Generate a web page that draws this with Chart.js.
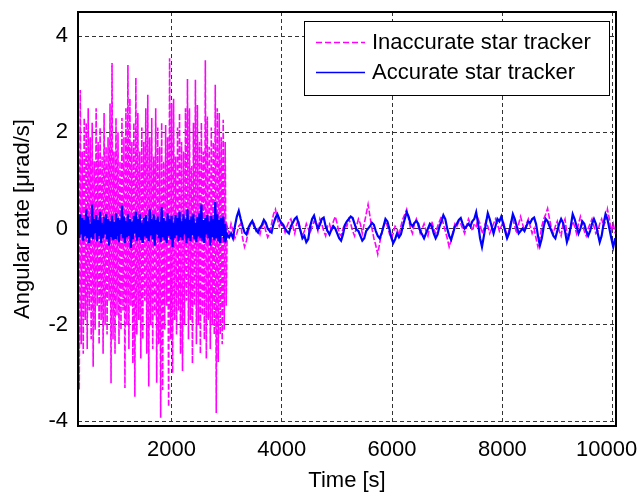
<!DOCTYPE html>
<html>
<head>
<meta charset="utf-8">
<title>Angular rate</title>
<script src="https://cdn.jsdelivr.net/npm/chart.js@4.4.0/dist/chart.umd.min.js"></script>
<style>
  html, body { margin: 0; padding: 0; background: #fff; }
  canvas { display: block; }
</style>
</head>
<body>
<canvas id="rate" width="640" height="494"></canvas>
<script>
//---sampling: fine steps while the bad tracker is in the loop, coarser steps afterwards---
const fastStart = 310, fastStep = 18;
const slowStart = 3010, slowStep = 35;

//---angular rate [urad/s], first phase (t < 3000 s)---
const inaccurateFast = [
  2.1, -3.35, 2.88, -2.4, 1.6, -2.6, 2.3, -1.9, 2.2, -2.5,
  2.5, -1.7, 1.9, -2.3, 2.2, -2.87, 1.4, -2.1, 2.5, -1.6,
  1.8, -2.4, 2.1, -1.9, 1.5, -2.6, 2.4, -2.0, 1.7, -2.2,
  1.9, -1.5, 2.6, -3.21, 3.44, -2.3, 1.6, -2.6, 2.3, -1.8,
  2.0, -2.4, 1.4, -2.1, 2.3, -1.7, 1.9, -3.31, 2.5, -2.0,
  3.4, -2.5, 2.7, -1.6, 1.8, -2.8, 2.2, -3.49, 3.13, -2.2,
  2.4, -1.9, 1.6, -2.7, 2.1, -2.3, 1.8, -1.5, 2.5, -2.6,
  2.78, -3.28, 1.9, -2.0, 2.3, -2.5, 1.5, -1.8, 2.5, -3.2,
  2.1, -2.4, 1.7, -3.93, 2.2, -3.35, 1.4, -2.1, 2.15, -1.6,
  1.9, -3.7, 3.54, -2.3, 2.6, -3.0, 2.7, -1.9, 1.5, -2.2,
  2.1, -1.7, 2.4, -2.6, 1.8, -2.96, 1.6, -2.0, 2.5, -1.5,
  3.11, -2.3, 2.5, -1.9, 1.3, -2.8, 2.2, -1.6, 3.09, -2.4,
  2.57, -2.0, 1.8, -2.6, 2.2, -1.8, 1.6, -2.3, 3.5, -2.7,
  2.33, -1.9, 1.7, -2.5, 2.1, -2.0, 1.8, -2.2, 2.99, -3.83,
  2.5, -2.77, 2.4, -2.2, 1.9, -2.4, 2.26, -2.1, 1.8, -1.6
];
const accurateFast = [
  0.15, -0.2, 0.3, -0.12, 0.22, -0.25, 0.18, -0.15, 0.4, -0.2,
  0.25, -0.3, 0.1, -0.18, 0.5, -0.22, 0.2, -0.1, 0.28, -0.26,
  0.18, -0.15, 0.35, -0.3, 0.12, -0.2, 0.24, -0.12, 0.3, -0.22,
  0.2, -0.35, 0.15, -0.18, 0.27, -0.24, 0.14, -0.2, 0.32, -0.15,
  0.22, -0.28, 0.18, -0.12, 0.48, -0.2, 0.25, -0.3, 0.16, -0.18,
  0.3, -0.15, 0.2, -0.4, 0.14, -0.22, 0.26, -0.1, 0.35, -0.25,
  0.2, -0.18, 0.3, -0.24, 0.12, -0.3, 0.22, -0.16, 0.28, -0.2,
  0.15, -0.26, 0.4, -0.14, 0.2, -0.22, 0.3, -0.35, 0.18, -0.12,
  0.25, -0.2, 0.14, -0.28, 0.45, -0.18, 0.22, -0.24, 0.16, -0.3,
  0.32, -0.15, 0.2, -0.22, 0.26, -0.38, 0.12, -0.2, 0.28, -0.14,
  0.22, -0.26, 0.35, -0.18, 0.15, -0.24, 0.3, -0.12, 0.2, -0.3,
  0.4, -0.2, 0.18, -0.26, 0.25, -0.14, 0.3, -0.22, 0.12, -0.28,
  0.24, -0.16, 0.32, -0.2, 0.5, -0.25, 0.18, -0.3, 0.22, -0.12,
  0.28, -0.2, 0.15, -0.35, 0.26, -0.18, 0.2, -0.24, 0.55, -0.2,
  0.3, -0.26, 0.18, -0.3, 0.22, -0.15, 0.25, -0.28, 0.1, -0.2
];

//---second phase (t > 3000 s), both trackers good---
const inaccurateSlow = [
  0.05, -0.1, 0.1, -0.05, -0.2, -0.1, 0.05, 0.1, -0.2, -0.38,
  -0.25, -0.05, 0.08, 0.15, 0.1, -0.05, 0.0, -0.12, 0.05, 0.1,
  -0.05, -0.18, -0.1, 0.1, 0.3, 0.4, 0.2, 0.05, 0.15, 0.05,
  -0.08, 0.05, 0.15, 0.2, 0.05, -0.1, 0.1, 0.18, -0.05, -0.15,
  -0.05, 0.1, 0.0, -0.1, 0.05, 0.15, 0.1, -0.05, 0.2, 0.1,
  -0.05, -0.15, 0.05, 0.1, -0.05, 0.15, 0.25, 0.1, -0.1, -0.15,
  0.0, 0.1, 0.05, 0.2, 0.1, -0.05, -0.15, 0.05, 0.2, 0.1,
  -0.1, 0.1, 0.3, 0.5, 0.25, 0.0, -0.2, -0.35, -0.53, -0.3,
  -0.1, 0.05, 0.15, 0.05, -0.1, -0.2, -0.1, 0.05, 0.0, -0.15,
  0.05, 0.2, 0.3, 0.4, 0.2, 0.0, -0.1, 0.1, 0.2, 0.05,
  -0.1, 0.0, 0.1, -0.05, -0.15, 0.05, 0.15, 0.0, -0.1, 0.05,
  0.15, 0.25, 0.1, -0.05, -0.2, -0.38, -0.25, -0.05, 0.1, 0.05,
  0.15, 0.1, 0.0, -0.1, 0.05, 0.2, 0.1, -0.05, 0.1, 0.05,
  0.2, 0.1, -0.1, 0.0, 0.15, 0.05, -0.1, 0.0, 0.1, 0.2,
  0.1, -0.05, 0.05, 0.15, 0.0, -0.15, -0.05, 0.15, 0.2, 0.05,
  -0.1, 0.1, 0.25, 0.1, -0.05, 0.1, 0.2, 0.05, -0.1, 0.0,
  -0.2, -0.38, -0.2, 0.05, 0.2, 0.3, 0.42, 0.2, 0.0, -0.1,
  0.05, 0.15, -0.05, -0.15, 0.1, 0.2, -0.1, -0.2, 0.0, 0.15,
  0.05, -0.1, 0.1, 0.25, 0.1, -0.05, -0.15, 0.0, 0.1, 0.2,
  0.05, -0.1, -0.05, 0.1, 0.2, 0.05, 0.15, 0.4, 0.2, -0.05,
  0.1, -0.1
];
const accurateSlow = [
  -0.12, -0.18, -0.1, -0.2, 0.05, 0.25, 0.37, 0.2, 0.05, -0.08,
  -0.12, 0.02, 0.1, 0.16, 0.05, -0.03, -0.08, 0.02, 0.08, 0.18,
  0.12, 0.0, -0.05, -0.08, 0.1, 0.22, 0.3, 0.2, 0.12, 0.08,
  0.0, -0.06, -0.1, 0.05, 0.12, 0.2, 0.24, 0.1, -0.05, -0.2,
  -0.15, -0.28, -0.22, 0.05, 0.2, 0.27, 0.12, 0.0, 0.08, 0.2,
  0.23, 0.05, -0.05, -0.12, -0.02, 0.05, 0.0, -0.1, -0.2, -0.25,
  -0.12, 0.08, 0.15, 0.2, 0.25, 0.22, 0.1, -0.02, -0.05, -0.15,
  -0.25, -0.2, -0.05, 0.0, 0.05, 0.12, 0.08, -0.05, -0.15, -0.2,
  -0.1, 0.05, 0.2, 0.15, 0.0, -0.18, -0.3, -0.22, -0.1, -0.18,
  -0.12, 0.05, 0.2, 0.34, 0.25, 0.1, 0.05, 0.12, 0.16, 0.1,
  -0.05, -0.12, -0.2, -0.1, 0.0, 0.1, 0.05, -0.1, -0.2, -0.12,
  0.05, 0.15, 0.28, 0.2, 0.0, -0.15, -0.23, -0.1, 0.05, 0.1,
  0.18, 0.22, 0.1, 0.0, 0.05, 0.1, 0.05, 0.15, 0.2, 0.34,
  0.1, -0.2, -0.38, -0.15, 0.1, 0.32, 0.2, 0.05, -0.1, 0.05,
  0.2, 0.15, 0.25, 0.1, -0.05, -0.2, -0.1, 0.1, 0.3, 0.2,
  0.05, -0.1, -0.05, 0.0, -0.05, 0.05, 0.15, 0.12, 0.2, 0.23,
  0.1, -0.15, -0.35, -0.2, 0.05, 0.2, 0.15, 0.05, -0.05, -0.15,
  -0.2, -0.05, 0.1, 0.2, 0.12, -0.05, -0.28, -0.15, 0.05, 0.3,
  0.2, 0.05, -0.1, 0.0, 0.15, 0.1, -0.05, -0.15, -0.05, 0.1,
  0.2, 0.1, -0.1, -0.28, -0.15, 0.1, 0.3, 0.2, 0.0, -0.2,
  -0.38, -0.2
];

const xTicks = [2000, 4000, 6000, 8000, 10000];
const yTicks = [-4, -2, 0, 2, 4];
const seriesNames = ['Inaccurate star tracker', 'Accurate star tracker'];
const seriesColors = ['#ff00ff', '#0000ff'];

const fontFamily = '"Liberation Sans", Arial, Helvetica, sans-serif';

//-------------------Functions-------------------
function toPoints(fast, slow){ //fast and slow are the two sample blocks, returns {x,y} list for a linear x axis
  const pts = [];
  for (var i = 0; i < fast.length; i++){
    pts.push({x: fastStart + i * fastStep, y: fast[i]});
  }
  for (var j = 0; j < slow.length; j++){
    pts.push({x: slowStart + j * slowStep, y: slow[j]});
  }
  return pts;
}

// black box round the plot area, drawn over the lines like matlab axes
const framePlugin = {
  id: 'frame',
  beforeDraw(chart){
    // pull the last x label ("10000") a bit inside so it is not cut by the canvas edge
    const items = chart.scales.x.getLabelItems();
    if (items.length) items[items.length - 1].options.translation[0] -= 6;
  },
  afterDatasetsDraw(chart){
    const a = chart.chartArea;
    const ctx = chart.ctx;
    ctx.save();
    ctx.strokeStyle = '#000';
    ctx.lineWidth = 2;
    ctx.strokeRect(a.left, a.top, a.right - a.left, a.bottom - a.top);
    ctx.restore();
  }
};

// legend box in the top right corner of the plot
const legendBox = {
  id: 'legendBox',
  afterDraw(chart){
    const ctx = chart.ctx;
    const x0 = 304, y0 = 21, w = 305, h = 74;
    ctx.save();
    ctx.fillStyle = '#fff';
    ctx.fillRect(x0, y0, w, h);
    ctx.strokeStyle = '#000';
    ctx.lineWidth = 1;
    ctx.strokeRect(x0 + 0.5, y0 + 0.5, w, h);

    const rows = [y0 + 21, y0 + 51];
    ctx.font = '22px ' + fontFamily;
    ctx.textBaseline = 'middle';
    ctx.textAlign = 'left';
    for (var i = 0; i < seriesNames.length; i++){
      ctx.beginPath();
      ctx.strokeStyle = seriesColors[i];
      ctx.lineWidth = 1.3;
      ctx.setLineDash(i === 0 ? [6, 3] : []);
      ctx.moveTo(x0 + 12, rows[i] + 0.5);
      ctx.lineTo(x0 + 61, rows[i] + 0.5);
      ctx.stroke();
      ctx.setLineDash([]);
      ctx.fillStyle = '#000';
      ctx.fillText(seriesNames[i], x0 + 68, rows[i] + 1);
    }
    ctx.restore();
  }
};

//-------------------Chart-------------------
const canvas = document.getElementById('rate');

new Chart(canvas, {
  type: 'line',
  data: {
    // accurate tracker first so it is painted on top of the magenta one
    datasets: [{
      label: seriesNames[1],
      data: toPoints(accurateFast, accurateSlow),
      borderColor: seriesColors[1],
      borderWidth: 2.2,
      pointRadius: 0,
      tension: 0,
      fill: false
    }, {
      label: seriesNames[0],
      data: toPoints(inaccurateFast, inaccurateSlow),
      borderColor: seriesColors[0],
      borderWidth: 1.6,
      borderDash: [6, 2],
      pointRadius: 0,
      tension: 0,
      fill: false
    }]
  },
  options: {
    responsive: false,
    animation: false,
    events: [],
    layout: {
      padding: {top: 12, right: 24, left: 0, bottom: 0}
    },
    plugins: {
      legend: {display: false},
      tooltip: {enabled: false}
    },
    scales: {
      x: {
        type: 'linear',
        min: 305,
        max: 10060,
        afterBuildTicks: (axis) => { axis.ticks = xTicks.map(v => ({value: v})); },
        afterFit: (axis) => { axis.height = 68; axis.paddingLeft = 0; axis.paddingRight = 0; },
        grid: {color: '#333', lineWidth: 1, drawTicks: false},
        border: {display: false, dash: [4, 3]},
        ticks: {
          color: '#000',
          padding: 11,
          maxRotation: 0,
          callback: (v) => String(v),
          font: {family: fontFamily, size: 22}
        },
        title: {
          display: true,
          text: 'Time [s]',
          color: '#000',
          padding: {top: 0, bottom: 0},
          font: {family: fontFamily, size: 22}
        }
      },
      y: {
        type: 'linear',
        min: -4.1,
        max: 4.5,
        afterBuildTicks: (axis) => { axis.ticks = yTicks.map(v => ({value: v})); },
        afterFit: (axis) => { axis.width = 78; axis.paddingTop = 0; axis.paddingBottom = 0; },
        grid: {color: '#333', lineWidth: 1, drawTicks: false},
        border: {display: false, dash: [4, 3]},
        ticks: {
          color: '#000',
          padding: 10,
          callback: (v) => String(v),
          font: {family: fontFamily, size: 22}
        },
        title: {
          display: true,
          text: 'Angular rate [\u03bcrad/s]',
          color: '#000',
          padding: {top: 10, bottom: 0},
          font: {family: fontFamily, size: 22}
        }
      }
    }
  },
  plugins: [framePlugin, legendBox]
});
</script>
</body>
</html>
